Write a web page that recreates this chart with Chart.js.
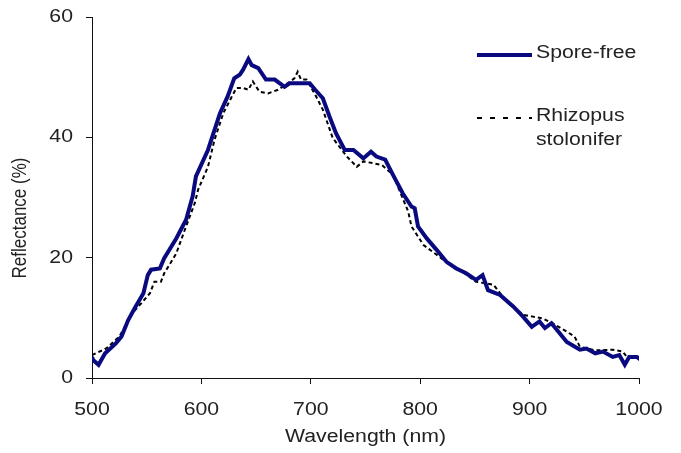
<!DOCTYPE html>
<html>
<head>
<meta charset="utf-8">
<script src="https://cdn.jsdelivr.net/npm/chart.js@4"></script>
<style>
  html, body { margin: 0; padding: 0; background: #fff; }
  #wrap { width: 681px; height: 453px; position: relative; }
</style>
</head>
<body>
<div id="wrap"><canvas id="c" width="681" height="453"></canvas></div>
<script>
// ---- data ----
const seriesNames = ['Spore-free', 'Rhizopus stolonifer'];
const legendLines = [['Spore-free'], ['Rhizopus', 'stolonifer']];
const xTitle = 'Wavelength (nm)';
const yTitle = 'Reflectance (%)';
const xTickValues = [500, 600, 700, 800, 900, 1000];
const yTickValues = [0, 20, 40, 60];

const sporeFreeNm = [500, 501, 506, 512, 522, 527, 533, 539, 547, 551, 554, 562, 566, 577, 586, 592, 595, 606, 615, 617, 624, 630, 635, 638, 643, 646, 652, 659, 667, 676, 681, 699, 704, 711, 717, 723, 731, 739, 748, 755, 760, 768, 775, 784, 792, 795, 798, 806, 815, 824, 833, 842, 851, 857, 862, 873, 885, 894, 902, 909, 914, 920, 934, 946, 952, 960, 967, 976, 982, 987, 991, 998, 1001];
const sporeFreeR  = [3.5, 3.0, 2.2, 4.1, 5.8, 6.9, 9.6, 11.6, 14.1, 17.1, 18.0, 18.2, 19.9, 23.2, 26.3, 30.2, 33.5, 37.9, 42.9, 44.0, 46.8, 49.8, 50.4, 51.2, 53.0, 52.0, 51.5, 49.6, 49.6, 48.4, 49.0, 49.0, 47.9, 46.5, 43.5, 40.7, 37.9, 37.9, 36.5, 37.6, 36.8, 36.3, 33.8, 30.7, 28.5, 28.2, 25.2, 23.2, 21.3, 19.3, 18.2, 17.4, 16.3, 17.1, 14.6, 13.8, 11.9, 10.2, 8.5, 9.4, 8.3, 9.1, 6.0, 4.7, 4.9, 4.1, 4.4, 3.5, 3.8, 2.2, 3.5, 3.5, 3.1];

const rhizopusNm = [500, 513, 525, 537, 545, 553, 557, 563, 566, 577, 586, 594, 597, 606, 612, 620, 627, 632, 638, 643, 647, 653, 661, 670, 679, 685, 688, 691, 696, 704, 711, 720, 733, 742, 748, 757, 765, 775, 789, 792, 803, 815, 827, 836, 845, 851, 867, 880, 894, 903, 912, 922, 934, 941, 946, 960, 976, 985, 989, 998, 1001];
const rhizopusR  = [3.8, 4.9, 6.9, 10.8, 12.4, 14.1, 16.0, 16.0, 17.4, 20.7, 25.2, 29.1, 31.3, 35.1, 39.6, 44.0, 46.5, 48.2, 48.2, 47.9, 49.3, 47.6, 47.3, 47.9, 49.0, 49.8, 50.9, 49.6, 49.6, 47.1, 44.6, 39.9, 36.8, 35.1, 36.0, 35.7, 35.4, 33.8, 27.7, 25.2, 22.1, 20.5, 18.8, 18.0, 16.8, 16.0, 15.5, 12.5, 10.5, 10.2, 9.9, 9.0, 7.7, 6.9, 5.2, 4.6, 4.7, 4.4, 3.5, 3.5, 3.3];

// ---- styles ----
const FONT = '"Liberation Sans", Arial, sans-serif';
const TEXT = '#222';
const BLUE = '#0a0a80';
const SX = 1.18;   // the reference text is wider than it is tall

const toPts = (xs, ys) => xs.map((x, i) => ({ x: x, y: ys[i] }));

function txt(ctx, t, x, y, align) {
  ctx.save();
  ctx.translate(x, y);
  ctx.scale(SX, 1);
  ctx.textAlign = align;
  ctx.textBaseline = 'middle';
  ctx.fillText(t, 0, 0);
  ctx.restore();
}

const overlay = {
  id: 'overlay',
  afterDraw(chart) {
    const ctx = chart.ctx;
    const a = chart.chartArea;
    const xs = chart.scales.x, ys = chart.scales.y;
    ctx.save();
    ctx.fillStyle = TEXT;
    ctx.font = '18px ' + FONT;
    // tick labels
    xTickValues.forEach(v => txt(ctx, String(v), xs.getPixelForValue(v), 410, 'center'));
    yTickValues.forEach(v => txt(ctx, String(v), 73, ys.getPixelForValue(v), 'right'));
    // x title
    txt(ctx, xTitle, (a.left + a.right) / 2, 437, 'center');
    // y title
    ctx.save();
    ctx.font = '17px ' + FONT;
    ctx.translate(20, 218);
    ctx.rotate(-Math.PI / 2);
    ctx.scale(1, SX);
    ctx.textAlign = 'center';
    ctx.textBaseline = 'middle';
    ctx.fillText(yTitle, 0, 0);
    ctx.restore();
    // legend
    const sx0 = 477, sx1 = 532, tx = 536;
    const rows = [55, 118];
    chart.data.datasets.forEach((ds, i) => {
      const y = rows[i];
      ctx.save();
      ctx.strokeStyle = ds.borderColor;
      ctx.lineWidth = ds.borderWidth;
      ctx.setLineDash(i === 0 ? [] : [5, 8]);
      ctx.beginPath();
      ctx.moveTo(sx0, y);
      ctx.lineTo(sx1, y);
      ctx.stroke();
      ctx.restore();
      legendLines[i].forEach((t, j) => txt(ctx, t, tx, y - 2 + j * 24, 'left'));
    });
    ctx.restore();
  }
};

new Chart(document.getElementById('c'), {
  type: 'line',
  data: {
    datasets: [
      {
        label: seriesNames[0],
        data: toPts(sporeFreeNm, sporeFreeR),
        borderColor: BLUE,
        borderWidth: 4,
        pointRadius: 0,
        tension: 0,
        borderJoinStyle: 'miter',
        fill: false
      },
      {
        label: seriesNames[1],
        data: toPts(rhizopusNm, rhizopusR),
        borderColor: '#000',
        borderWidth: 2,
        borderDash: [4, 3],
        pointRadius: 0,
        tension: 0,
        fill: false
      }
    ]
  },
  options: {
    responsive: false,
    animation: false,
    layout: { padding: { left: 0, right: 42, top: 17, bottom: 0 } },
    plugins: { legend: { display: false }, tooltip: { enabled: false } },
    scales: {
      x: {
        type: 'linear',
        min: xTickValues[0],
        max: xTickValues[xTickValues.length - 1],
        afterBuildTicks: (s) => { s.ticks = xTickValues.map(v => ({ value: v })); },
        afterFit: (s) => { s.height = 75; },
        ticks: { display: false },
        grid: { drawOnChartArea: false, drawTicks: true, tickLength: 6, tickColor: '#111', tickWidth: 1 },
        border: { color: '#111', width: 1 }
      },
      y: {
        min: yTickValues[0],
        max: yTickValues[yTickValues.length - 1],
        afterBuildTicks: (s) => { s.ticks = yTickValues.map(v => ({ value: v })); },
        afterFit: (s) => { s.width = 92; },
        ticks: { display: false },
        grid: { drawOnChartArea: false, drawTicks: true, tickLength: 6, tickColor: '#111', tickWidth: 1 },
        border: { color: '#111', width: 1 }
      }
    }
  },
  plugins: [overlay]
});
</script>
</body>
</html>
